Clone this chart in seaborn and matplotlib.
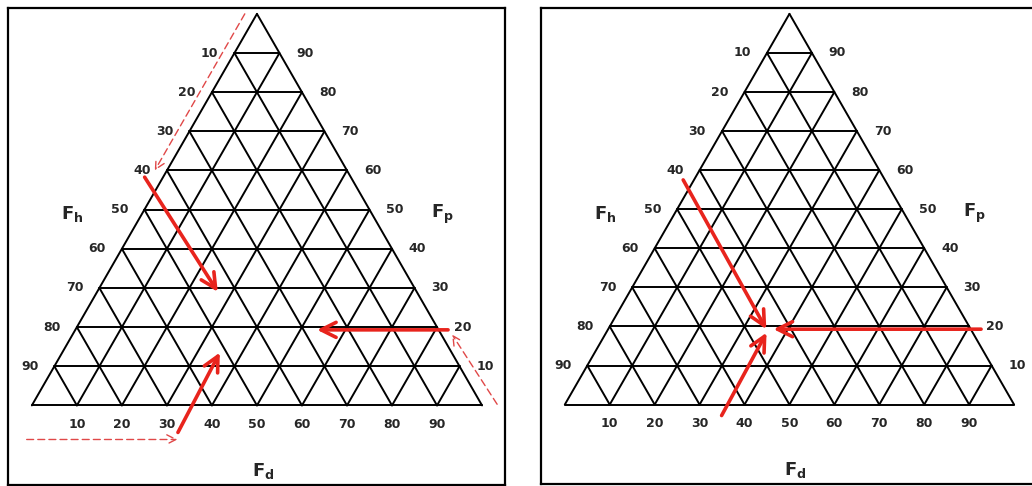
import matplotlib.pyplot as plt
import numpy as np
import pandas as pd
import seaborn as sns

sns.set_theme(style='white')
plt.rcParams['font.family'] = ['DejaVu Sans']

# grid levels in percent and the tick labels on each edge
levels = [10, 20, 30, 40, 50, 60, 70, 80, 90]
fh_labels = ['10', '20', '30', '40', '50', '60', '70', '80', '90']  # left edge, top to bottom
fp_labels = ['90', '80', '70', '60', '50', '40', '30', '20', '10']  # right edge, top to bottom
fd_labels = ['10', '20', '30', '40', '50', '60', '70', '80', '90']  # base, left to right

# arrows as (Fd, Fp) pairs
left_solid_start = [(-4.1, 58.3), (82.8, 19.3), (35.9, -6.9)]
left_solid_end = [(26.8, 29.0), (53.7, 19.3), (35.0, 13.5)]
left_dash_start = [(-2.7, 100.0), (103.2, 0.3), (3.2, -8.7)]
left_dash_end = [(-2.7, 60.0), (84.3, 18.1), (36.7, -8.7)]
right_solid_start = [(-2.4, 57.5), (83.0, 19.3), (36.3, -2.8)]
right_solid_end = [(35.2, 19.3), (36.8, 19.3), (35.7, 18.4)]

RED = '#e8241d'


def tern(fd, fp):
    # ternary (Fd, Fp) -> cartesian, base length 100
    return fd + fp / 2, fp * np.sqrt(3) / 2


# grid segments
rows = []
seg = 0
edges = [((0, 0), (100, 0)), ((100, 0), (0, 100)), ((0, 100), (0, 0))]
for v in levels:
    edges.append(((0, v), (100 - v, v)))        # constant Fp
    edges.append(((v, 0), (v, 100 - v)))        # constant Fd
    edges.append(((0, 100 - v), (100 - v, 0)))  # constant Fh
for a, b in edges:
    for p in (a, b):
        x, y = tern(*p)
        rows.append({'seg': seg, 'x': x, 'y': y})
    seg += 1
grid = pd.DataFrame(rows)


def draw_panel(ax, solid_start, solid_end, dash_start=None, dash_end=None):
    sns.lineplot(data=grid, x='x', y='y', units='seg', estimator=None, sort=False,
                 color='black', lw=1.4, ax=ax)
    lab = dict(fontsize=9, fontweight='bold', color='#262626', va='center', ha='center')
    for v, t in zip(levels, fh_labels):
        x, y = tern(0, 100 - v)
        ax.text(x - 5.5, y, t, **lab)
    for v, t in zip(levels[::-1], fp_labels):
        x, y = tern(100 - v, v)
        ax.text(x + 5.7, y, t, **lab)
    for v, t in zip(levels, fd_labels):
        x, y = tern(v, 0)
        ax.text(x, y - 4.3, t, **lab)
    name = dict(fontsize=13, ha='center', va='center', color='#262626')
    ax.text(9.0, 42.3, r'$\mathbf{F}_{\mathbf{h}}$', **name)
    ax.text(91.2, 42.3, r'$\mathbf{F}_{\mathbf{p}}$', **name)
    ax.text(51.3, -14.6, r'$\mathbf{F}_{\mathbf{d}}$', **name)

    for s, e in zip(solid_start, solid_end):
        ax.annotate('', xy=tern(*e), xytext=tern(*s),
                    arrowprops=dict(arrowstyle='->,head_length=0.9,head_width=0.45',
                                    color=RED, lw=2.6, shrinkA=0, shrinkB=0))
    if dash_start:
        for s, e in zip(dash_start, dash_end):
            ax.annotate('', xy=tern(*e), xytext=tern(*s),
                        arrowprops=dict(arrowstyle='->,head_length=0.55,head_width=0.28',
                                        color='#e04848', lw=1.0, ls=(0, (5, 3)),
                                        shrinkA=0, shrinkB=0))

    ax.set_xlim(-5.3, 105.1)
    ax.set_ylim(-17.6, 87.9)
    ax.set_xticks([])
    ax.set_yticks([])
    ax.set_xlabel('')
    ax.set_ylabel('')
    for sp in ax.spines.values():
        sp.set_visible(True)
        sp.set_color('black')
        sp.set_linewidth(1.6)


fig = plt.figure(figsize=(10.32, 4.86), dpi=100)
ax1 = fig.add_axes([8 / 1032, 1 / 486, 497 / 1032, 477 / 486])
ax2 = fig.add_axes([541 / 1032, 2 / 486, 496 / 1032, 476 / 486])
draw_panel(ax1, left_solid_start, left_solid_end, left_dash_start, left_dash_end)
draw_panel(ax2, right_solid_start, right_solid_end)

fig.savefig('out.png', dpi=100, facecolor='white')
